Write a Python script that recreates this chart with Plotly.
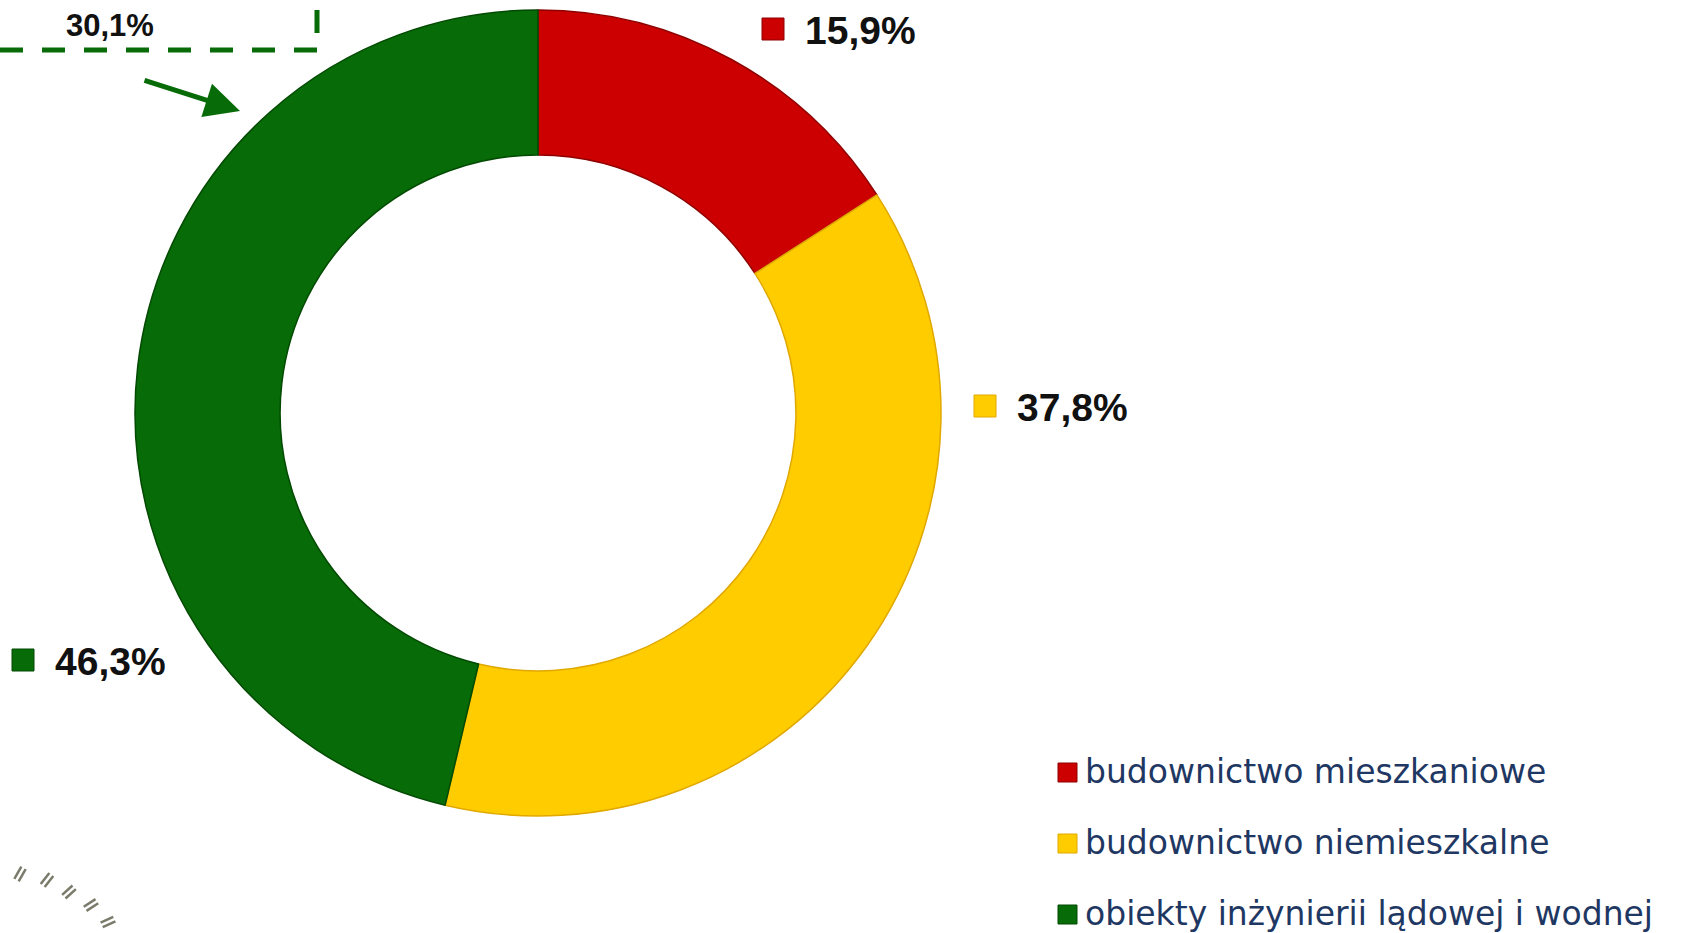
import math
import plotly.graph_objects as go

# data
categories = ["budownictwo mieszkaniowe", "budownictwo niemieszkalne",
              "obiekty inżynierii lądowej i wodnej"]
shares = [15.9, 37.8, 46.3]
boxed_share = 30.1
colors = ["#CC0000", "#FFCC00", "#076B07"]
edge_colors = ["#8E0000", "#E0A800", "#034A03"]

W, H = 1691, 933


def px(x):
    return x / W


def py(y):
    return 1 - y / H


def fmt(v):
    return f"{v:.1f}".replace(".", ",") + "%"


# donut geometry (pixels)
cx, cy, r = 538, 413, 403

fig = go.Figure(go.Pie(
    labels=categories,
    values=shares,
    hole=0.64,
    sort=False,
    direction="clockwise",
    rotation=0,
    textinfo="none",
    showlegend=False,
    marker=dict(colors=colors, line=dict(color=edge_colors, width=1.5)),
    domain=dict(x=[px(cx - r), px(cx + r)], y=[py(cy + r), py(cy - r)]),
))

shapes = []
annotations = []

# value labels with small squares
label_pos = [(773, 29), (985, 406), (23, 660)]
for v, c, ec, (sx, sy) in zip(shares, colors, edge_colors, label_pos):
    shapes.append(dict(type="rect", xref="paper", yref="paper",
                       x0=px(sx - 11), x1=px(sx + 11), y0=py(sy + 11), y1=py(sy - 11),
                       fillcolor=c, line=dict(color=ec, width=1)))
    annotations.append(dict(x=px(sx + 30), y=py(sy + 1), xref="paper", yref="paper",
                            text="<b>" + fmt(v) + "</b>", showarrow=False,
                            xanchor="left", yanchor="middle",
                            font=dict(family="Liberation Sans", size=39, color="#111111")))

# legend drawn by hand (row spacing larger than plotly's legend)
legend_rows = [772, 843, 914]
for name, c, ec, ly in zip(categories, colors, edge_colors, legend_rows):
    shapes.append(dict(type="rect", xref="paper", yref="paper",
                       x0=px(1058), x1=px(1077), y0=py(ly + 10), y1=py(ly - 9),
                       fillcolor=c, line=dict(color=ec, width=1)))
    annotations.append(dict(x=px(1083), y=py(ly - 1), xref="paper", yref="paper",
                            text=name, showarrow=False, xanchor="left", yanchor="middle",
                            font=dict(family="DejaVu Sans", size=33, color="#1F3863")))

# dashed box (cut off at top-left) with 30,1%
green = "#076B07"
shapes.append(dict(type="line", xref="paper", yref="paper",
                   x0=px(317), y0=py(50), x1=px(-5), y1=py(50),
                   line=dict(color=green, width=5, dash="23px,19px")))
shapes.append(dict(type="line", xref="paper", yref="paper",
                   x0=px(317), y0=py(33), x1=px(317), y1=py(-30),
                   line=dict(color=green, width=5, dash="23px,19px")))
annotations.append(dict(x=px(64), y=py(26), xref="paper", yref="paper",
                        text="<b>" + fmt(boxed_share) + "</b>", showarrow=False,
                        xanchor="left", yanchor="middle",
                        font=dict(family="Liberation Sans", size=31, color="#111111")))

# arrow pointing at the green slice
annotations.append(dict(x=px(240), y=py(111), xref="paper", yref="paper",
                        ax=-97, ay=-31, text="", showarrow=True,
                        arrowhead=2, arrowsize=1.4, arrowwidth=5, arrowcolor=green))

# small decorative strokes bottom-left
decor = [(20, 874, 60), (47, 880, 52), (69, 892, 42), (91, 905, 33), (108, 922, 25)]
for dx, dy, ang in decor:
    a = math.radians(ang)
    ux, uy = math.cos(a) * 7, -math.sin(a) * 7
    nx, ny = math.sin(a) * 2.5, math.cos(a) * 2.5
    for s in (-1, 1):
        shapes.append(dict(type="line", xref="paper", yref="paper",
                           x0=px(dx - ux + s * nx), y0=py(dy - uy + s * ny),
                           x1=px(dx + ux + s * nx), y1=py(dy + uy + s * ny),
                           line=dict(color="#7A7B6A", width=2.5)))

fig.update_layout(
    width=W, height=H,
    margin=dict(l=0, r=0, t=0, b=0),
    paper_bgcolor="white",
    plot_bgcolor="white",
    shapes=shapes,
    annotations=annotations,
)

# drop the default 8px body margin so the figure fills the window
fig.write_html("out.html", config={"displayModeBar": False},
               post_script="document.body.style.margin='0';")
